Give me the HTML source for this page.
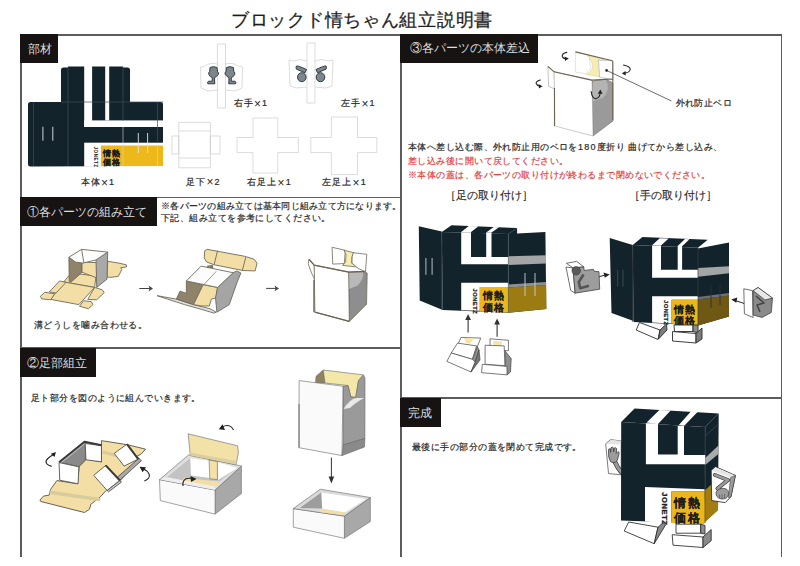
<!DOCTYPE html>
<html lang="ja"><head><meta charset="utf-8">
<style>
html,body{margin:0;padding:0;background:#fff;}
body{width:800px;height:566px;position:relative;overflow:hidden;font-family:"Liberation Sans",sans-serif;color:#2a2a2a;}
.a{position:absolute;white-space:nowrap;line-height:1;}
.ln{position:absolute;background:#5c5c5c;}
.hd{position:absolute;background:#161312;color:#dedede;font-size:12px;line-height:1;}
.hd span{position:absolute;white-space:nowrap;}
.t9{font-size:9px;letter-spacing:0.44px;-webkit-text-stroke:0.2px currentColor;}
.red{color:#e5413f;}
.lb{font-size:9px;letter-spacing:1.2px;-webkit-text-stroke:0.2px currentColor;}
.x{font-size:12px;letter-spacing:1px;-webkit-text-stroke:0;position:relative;top:1.5px;}
svg{position:absolute;left:0;top:0;}
</style></head><body>
<div class="a" style="left:231px;top:10.8px;font-size:18px;letter-spacing:0.72px;color:#1e1e1e;-webkit-text-stroke:0.25px #1e1e1e;">ブロックド情ちゃん組立説明書</div>

<!-- frame lines -->
<div class="ln" style="left:20px;top:34px;width:762px;height:1.5px;"></div>
<div class="ln" style="left:20px;top:34px;width:1.5px;height:523px;"></div>
<div class="ln" style="left:780.5px;top:34px;width:1.5px;height:523px;"></div>
<div class="ln" style="left:400px;top:34px;width:1.5px;height:523px;"></div>
<div class="ln" style="left:20px;top:196.5px;width:381px;height:1.5px;"></div>
<div class="ln" style="left:20px;top:347px;width:381px;height:1.5px;"></div>
<div class="ln" style="left:400px;top:397px;width:382px;height:1.5px;"></div>

<!-- headers -->
<div class="hd" style="left:20px;top:34px;width:38px;height:28.5px;"><span style="left:7.5px;top:8.5px;">部材</span></div>
<div class="hd" style="left:20px;top:197px;width:137px;height:28.5px;"><span style="left:7px;top:8.5px;">①各パーツの組み立て</span></div>
<div class="hd" style="left:20px;top:347.5px;width:76px;height:29px;"><span style="left:6.5px;top:9px;">②足部組立</span></div>
<div class="hd" style="left:400px;top:34px;width:138px;height:28.5px;"><span style="left:10px;top:8px;">③各パーツの本体差込</span></div>
<div class="hd" style="left:400px;top:397.5px;width:41px;height:29px;"><span style="left:8px;top:9px;">完成</span></div>

<!-- labels -->
<div class="a lb" style="left:233.5px;top:96.2px;">右手<span class="x">×</span>1</div>
<div class="a lb" style="left:341px;top:96.2px;">左手<span class="x">×</span>1</div>
<div class="a lb" style="left:80.5px;top:175px;">本体<span class="x">×</span>1</div>
<div class="a lb" style="left:186px;top:174.5px;">足下<span class="x">×</span>2</div>
<div class="a lb" style="left:247px;top:175px;">右足上<span class="x">×</span>1</div>
<div class="a lb" style="left:322px;top:175px;">左足上<span class="x">×</span>1</div>

<div class="a t9" style="left:161px;top:202px;letter-spacing:0.25px;">※各パーツの組み立ては基本同じ組み立て方になります。</div>
<div class="a t9" style="left:161px;top:213.5px;">下記、組み立てを参考にしてください。</div>
<div class="a t9" style="left:34px;top:320.5px;">溝どうしを噛み合わせる。</div>
<div class="a t9" style="left:31px;top:394px;">足ト部分を図のように組んでいきます。</div>

<div class="a t9" style="left:675.5px;top:99px;">外れ防止ベロ</div>
<div class="a t9" style="left:408px;top:143px;">本体へ差し込む際、外れ防止用のベロを<span style="letter-spacing:1.3px;">180</span>度折り 曲げてから差し込み、</div>
<div class="a t9 red" style="left:408px;top:157px;">差し込み後に開いて戻してください。</div>
<div class="a t9 red" style="left:408px;top:170.5px;">※本体の蓋は、各パーツの取り付けが終わるまで閉めないでください。</div>
<div class="a lb" style="left:445px;top:190px;font-size:10.5px;letter-spacing:0;-webkit-text-stroke:0.15px currentColor;">［足の取り付け］</div>
<div class="a lb" style="left:629px;top:190px;font-size:10.5px;letter-spacing:0;-webkit-text-stroke:0.15px currentColor;">［手の取り付け］</div>
<div class="a t9" style="left:412px;top:443px;">最後に手の部分の蓋を閉めて完成です。</div>


<svg width="800" height="566" viewBox="0 0 800 566">
<!-- ===== 部材: body net ===== -->
<g id="bodynet">
<path fill="#13232b" d="M61,70 Q61,67.5 63.5,67.5 L68,67.5 L68,66.5 L123,66.5 L123,67.5 L127.5,67.5 Q130,67.5 130,70 L130,102 L160.5,102 Q163,102 163,104.5 L163,166 L30.5,166.5 Q28,166.5 28,164 L28,104.5 Q28,102 30.5,102 L61,102 Z"/>
<rect x="84.2" y="66" width="7.9" height="61" fill="#fff"/>
<rect x="105.2" y="66" width="4" height="54.4" fill="#fff"/>
<rect x="84.2" y="120.4" width="79.3" height="6.6" fill="#fff"/>
<rect x="84.2" y="142.7" width="79.3" height="24" fill="#fff"/>
<rect x="100.9" y="145.5" width="62.1" height="20.5" fill="#edb81a"/>
<g stroke="#3d5058" stroke-width="0.7" fill="none">
<path d="M33.6,102.5 V166 M68,67 V166 M123,67 V120.4 M157.5,102.5 V142.7 M61,102 H163"/>
</g>
<g stroke="#d8d8d8" stroke-width="0.6" fill="none">
<path d="M123,127 V166 M157.5,145.5 V166"/>
</g>
<g stroke="#e8e8e8" stroke-width="0.9">
<path d="M42.9,126.8 V140.7 M52.8,126.8 V140.7 M138.3,133 V153 M147.6,133 V153"/>
</g>
<text x="103.2" y="155.6" font-size="7.6" font-weight="bold" fill="#1e1e1e" stroke="#1e1e1e" stroke-width="0.25" letter-spacing="0.6">情熱</text>
<text x="103.2" y="165" font-size="7.6" font-weight="bold" fill="#1e1e1e" stroke="#1e1e1e" stroke-width="0.25" letter-spacing="0.6">価格</text>
<text transform="translate(94.4,146.5) rotate(90)" font-size="4.6" font-weight="bold" fill="#222" letter-spacing="0.5">JONETZ</text>
</g>

<!-- ===== 部材: hand nets ===== -->
<g fill="none" stroke="#cdcdcd" stroke-width="0.7">
<path d="M217.4,44 H225.5 V108 H217.4 Z M217.4,64 Q210,62 205,66 L200.5,67 L201,88 L208,91 L217.4,90 M225.5,64 Q233,62 238,66 L242.5,67 L242,88 L235,91 L225.5,90"/>
<path d="M307,43 H315 V103 H307 Z M307,61 Q300,58 294,61 L289,60 L290,86 L296,88 L307,87 M315,61 Q322,58 328,61 L333,60 L332,86 L326,88 L315,87"/>
<path d="M178.8,122.4 H210.4 V167.8 H178.8 Z M171.9,136 H178.8 V154 H171.9 Z M210.4,136 H220 V154 H210.4 Z M178.8,131 H210.4 M178.8,158 H210.4"/>
<path d="M237,137.5 H253 V118 H277.8 V137.5 H298.4 V152.6 H277.8 V173 H253 V152.6 H237 Z"/>
<path d="M310.8,137.5 H331.4 V117 H357.5 V137.5 H376.8 V152.6 H357.5 V174.6 H331.4 V152.6 H310.8 Z"/>
</g>
<g fill="#7b878c" stroke="#263034" stroke-width="0.9" stroke-linejoin="round">
<path d="M210,67.5 Q213.5,65.8 217,67.5 L217.6,71.8 Q219.2,72.6 218.2,74.6 Q216.4,77 214.6,77.5 L214.6,81 L214.8,83.8 L207.9,83.8 Q206.9,82 208.5,81.2 L212.2,81.2 L212.2,77.5 Q210,77 208.9,74.6 Q208,72.6 209.6,71.8 Z"/>
<path d="M 233.50 67.50 Q 230.00 65.80 226.50 67.50 L 225.90 71.80 Q 224.30 72.60 225.30 74.60 Q 227.10 77.00 228.90 77.50 L 228.90 81.00 L 228.70 83.80 L 235.60 83.80 Q 236.60 82.00 235.00 81.20 L 231.30 81.20 L 231.30 77.50 Q 233.50 77.00 234.60 74.60 Q 235.50 72.60 233.90 71.80 Z"/>
<ellipse cx="301.8" cy="77.2" rx="4.3" ry="4.5"/><path d="M296.5,66 Q298,65.5 306.5,69.5 L305,72.8 L296.5,69.2 Q295.5,67.5 296.5,66 Z"/>
<ellipse cx="320.5" cy="77.2" rx="4.3" ry="4.5"/><path d="M326,66 Q324.5,65.5 316,69.5 L317.5,72.8 L326,69.2 Q327,67.5 326,66 Z"/>
</g>

<!-- ===== ① illustrations ===== -->
<g transform="translate(30,240) scale(0.1375)" stroke="#6d6a5c" stroke-width="0.9" vector-effect="non-scaling-stroke" stroke-linejoin="round">
<g vector-effect="non-scaling-stroke">
<path fill="#f3dfa6" d="M565,155 L640,167 L700,180 L702,196 L660,202 L668,215 L642,265 L580,272 L560,268 Z" vector-effect="non-scaling-stroke"/>
<path fill="#f3dfa6" d="M245,305 L300,240 L480,262 L470,345 Z" vector-effect="non-scaling-stroke"/>
<path fill="#f3dfa6" d="M245,305 L470,345 L355,470 L150,432 Z" vector-effect="non-scaling-stroke"/>
<path fill="#f3dfa6" d="M140,378 L215,298 L262,308 L190,385 Z" vector-effect="non-scaling-stroke"/>
<path fill="#f3dfa6" d="M75,410 L108,380 L180,392 L150,435 L85,428 Z" vector-effect="non-scaling-stroke"/>
<path fill="#f3dfa6" d="M470,345 L525,362 L540,382 L485,435 L420,432 Z" vector-effect="non-scaling-stroke"/>
<path fill="#f3dfa6" d="M390,442 L445,448 L458,470 L425,500 L360,482 Z" vector-effect="non-scaling-stroke"/>
<path fill="#8f846a" d="M283,125 L378,160 L378,235 L300,305 L285,300 Z" vector-effect="non-scaling-stroke"/>
<path fill="#f3dfa6" d="M378,160 L488,165 L485,275 L378,235 Z" vector-effect="non-scaling-stroke"/>
<path fill="#a9a9a9" d="M480,140 L565,88 L560,285 L485,345 Z" vector-effect="non-scaling-stroke"/>
<path fill="#fdfdfd" d="M283,125 L375,68 L565,88 L480,145 L385,168 L330,160 Z" vector-effect="non-scaling-stroke"/>
<path fill="none" d="M375,68 L392,165" vector-effect="non-scaling-stroke"/>
</g>
</g>

<g transform="translate(155,240) scale(0.1375)" stroke="#6d6a5c" stroke-linejoin="round">
<path fill="#e2e2e2" stroke-width="0.9" vector-effect="non-scaling-stroke" d="M15,405 L155,430 L280,470 L400,500 L445,525 L430,532 L340,505 L215,470 L90,430 Z"/>
<path fill="#f3dfa6" stroke-width="0.9" vector-effect="non-scaling-stroke" d="M362,78 L380,68 L650,118 L722,140 L742,170 L728,225 L640,222 L430,180 L375,160 L358,130 Z"/>
<path fill="none" stroke-width="0.9" vector-effect="non-scaling-stroke" d="M455,78 L430,178 M660,125 L635,222"/>
<path fill="#8f846a" stroke-width="0.9" vector-effect="non-scaling-stroke" d="M380,190 L420,185 L420,205 L385,200 Z"/>
<path fill="#8f846a" stroke-width="0.9" vector-effect="non-scaling-stroke" d="M155,430 L182,372 L228,388 L228,298 L350,325 L280,470 Z"/>
<path fill="#f3dfa6" stroke-width="0.9" vector-effect="non-scaling-stroke" d="M280,470 L350,325 L455,345 L445,420 L410,430 L395,480 L340,480 Z"/>
<path fill="#a5a5a5" stroke-width="0.9" vector-effect="non-scaling-stroke" d="M455,345 L568,238 L595,225 L625,240 L600,300 L540,470 L450,525 L440,420 Z"/>
<path fill="#fdfdfd" stroke-width="0.9" vector-effect="non-scaling-stroke" d="M228,298 L335,190 L568,238 L455,345 Z"/>
<path fill="none" stroke-width="0.7" vector-effect="non-scaling-stroke" d="M445,228 L355,325"/>
</g>

<g transform="translate(295,240) scale(0.13245)" stroke="#6d6a5c" stroke-linejoin="round">
<path fill="#fff" stroke-width="0.8" vector-effect="non-scaling-stroke" d="M280,55 L380,78 L372,178 L285,182 Z"/>
<path fill="#f6eeb0" stroke-width="0.8" vector-effect="non-scaling-stroke" d="M370,78 L445,96 L430,130 L428,175 L480,205 L360,192 L382,165 L385,110 Z"/>
<path fill="#fff" stroke-width="0.8" vector-effect="non-scaling-stroke" d="M440,96 L542,108 L532,240 L478,215 L430,175 L432,125 Z"/>
<path fill="#fff" stroke-width="0.8" vector-effect="non-scaling-stroke" d="M105,148 L145,190 L150,300 L125,250 L100,180 Z"/>
<path fill="#8e8e8e" stroke-width="0.8" vector-effect="non-scaling-stroke" d="M405,242 L525,238 L545,250 L540,485 L410,615 Z"/>
<path fill="#b9b9b9" stroke="none" d="M408,245 L515,240 Q520,300 470,345 L408,370 Z"/>
<path fill="#fff" stroke-width="0.8" vector-effect="non-scaling-stroke" d="M145,190 L405,242 L410,615 L150,545 Z"/>
<path fill="none" stroke="#6e6250" stroke-width="1.3" vector-effect="non-scaling-stroke" d="M105,145 L145,190 L405,242 L525,238 M143,300 V545 M150,545 L410,615"/>
</g>

<g stroke="#444" stroke-width="1" fill="#444">
<path d="M139.3,288.5 H151" fill="none"/><path d="M153,288.5 L148.5,285.6 L149.6,288.5 L148.5,291.4 Z" stroke="none"/>
<path d="M266.1,288.4 H277" fill="none"/><path d="M279,288.4 L274.5,285.5 L275.6,288.4 L274.5,291.3 Z" stroke="none"/>
</g>

<!-- ===== ② illustrations ===== -->
<g transform="translate(35,435) scale(0.14144)" stroke="#55544c" stroke-linejoin="round">
<path fill="#f3dfa6" stroke-width="0.9" vector-effect="non-scaling-stroke" d="M35,460 L60,432 L100,425 L110,385 L155,322 L300,345 L315,205 L360,170 L470,190 L470,40 L650,68 L782,100 L750,135 L720,150 L740,170 L595,330 L500,395 L460,440 L420,470 L395,490 L385,525 L350,548 L40,470 Z"/>
<path fill="#d8cb9c" stroke="none" d="M108,392 L465,446 L458,468 L102,418 Z"/>
<path fill="#d8cb9c" stroke="none" d="M480,110 L600,140 L590,160 L475,130 Z"/>
<path fill="#8a8a8a" stroke-width="0.9" vector-effect="non-scaling-stroke" d="M170,192 L350,50 L360,60 L355,180 L310,225 Z"/>
<path fill="#b9b9b9" stroke="none" d="M172,190 L350,48 L356,62 L186,200 Z"/>
<path fill="#fff" stroke-width="0.9" vector-effect="non-scaling-stroke" d="M170,195 L310,225 L305,345 L175,320 Z"/>
<path fill="#fff" stroke-width="0.9" vector-effect="non-scaling-stroke" d="M355,60 L470,75 L470,190 L360,175 Z"/>
<path fill="#fff" stroke-width="0.9" vector-effect="non-scaling-stroke" d="M560,130 L650,65 L730,170 L630,220 Z"/>
<path fill="#a9a9a9" stroke-width="0.9" vector-effect="non-scaling-stroke" d="M580,300 L735,165 L752,182 L597,322 Z"/>
<path fill="#fff" stroke-width="0.9" vector-effect="non-scaling-stroke" d="M415,285 L500,215 L600,322 L510,392 Z"/>
<path fill="#c8c8c8" stroke-width="0.9" vector-effect="non-scaling-stroke" d="M510,392 L600,322 L612,332 L520,402 Z"/>
<path fill="none" stroke="#3a3a3a" stroke-width="2" vector-effect="non-scaling-stroke" d="M170,192 L350,48 L470,72 M650,65 L730,170 M500,215 L600,322"/>
<path fill="none" stroke="#222" stroke-width="1.2" vector-effect="non-scaling-stroke" d="M118,222 Q33,195 128,140"/>
<path fill="#222" stroke="none" d="M148,120 L112,132 L138,156 Z"/>
</g>
<path fill="none" stroke="#222" stroke-width="1.1" d="M144.3,481 Q150.5,478.5 149.2,474.5 Q147.5,470.5 143.5,469"/>
<path fill="#222" d="M139.6,466.8 L146,467.2 L142.6,472.2 Z"/>

<g stroke="#666" stroke-width="0.6" stroke-linejoin="round">
<path fill="#a8a8a8" d="M215.1,490 L241.4,466 L241.4,493.5 L215.1,514.1 Z"/>
<path fill="#fafafa" d="M159.5,479.6 L215.1,490 L215.1,514.1 L160.3,500.6 Z"/>
<path fill="#dedede" d="M159.5,479.6 L188.8,454.8 L241.4,466 L215.1,490 Z"/>
<path fill="#c3c3c3" stroke="none" d="M165.5,478.5 L190.3,458 L237.5,468 L214,485.5 Z"/>
<path fill="#fff" stroke="none" d="M190.3,458 L210,461 L210,478 L191,475.5 Z"/>
<path fill="#fff" stroke="none" d="M217.4,462 L237.5,468 L218,480 Z"/>
<path fill="#f3e2a8" d="M188.1,433.8 L237.6,445.8 L238.4,452.5 L236.1,464.6 L190.3,455.5 Z"/>
<path fill="#ddd0a0" stroke="none" d="M190,452.5 L236.5,461 L236.1,464.6 L190.3,455.5 Z"/>
<path fill="#f3e2a8" d="M209.1,460 L217.4,461.6 L217.4,479.6 L209.8,478.8 Z"/>
<path fill="#f3dfa6" stroke="none" d="M183.5,478 L219.5,481.5 L218,486.5 L182.5,483 Z"/>
<path fill="#eeeeee" stroke="none" d="M160,479.6 L166,477 L215,486.5 L215.1,490 Z"/>
</g>
<path fill="none" stroke="#222" stroke-width="1.1" d="M183,486 Q182,478.5 189,478.3 Q193,478 195,479"/>
<path fill="#222" d="M196.5,479 L190.5,476 L191,482 Z"/>
<path fill="none" stroke="#222" stroke-width="1.1" d="M233.5,430 Q230,423 222,427"/>
<path fill="#222" d="M218.8,429.2 L225,430 L222.5,424.2 Z"/>

<g stroke="#666" stroke-width="0.6" stroke-linejoin="round">
<path fill="#8f8462" d="M316.1,376.3 L323.2,370 L325,383 L315.5,382.7 Z"/>
<path fill="#f3e8a8" d="M323.2,370 L363.5,374.9 L358.5,380.5 L355.7,397.5 L350.8,396.8 L348,385.5 L325,383 Z"/>
<path fill="#9a9a9a" d="M358.5,380.5 L363.5,374.9 L365,378 L364.9,438.5 L343,445 L343,386.2 L348,385.5 L350.8,396.8 L355.7,397.5 Z"/>
<path fill="#e8e8e8" stroke="none" d="M343.5,409 Q350,399 356,398 L364,398 Q355,403 350,408 Z"/>
<path fill="#fafafa" d="M299.1,380.6 L343,386.2 L342,455.6 L299,447.7 Z"/>
<path fill="#999" stroke="none" d="M298.2,404 H300 V447.7 H298.2 Z"/>
<path fill="#8a8a8a" d="M343,445 L364.9,438.5 L364.5,447 L342,455.6 Z"/>
<path fill="#a8a8a8" d="M344.4,516.1 L370.3,497.5 L370.3,521.6 L344.4,538.3 Z"/>
<path fill="#fafafa" d="M293.3,508.6 L344.4,516.1 L344.4,538.3 L293.3,527.2 Z"/>
<path fill="#dadada" d="M293.3,508.6 L320.3,489.2 L370.3,497.5 L344.4,516.1 Z"/>
<path fill="#fff" stroke="none" d="M321.2,492.5 L366,499 L345,512.5 L322.1,508.6 Z"/>
<path fill="#9d9d9d" stroke="none" d="M299.8,508 L321.2,492.5 L322.1,508.6 Z"/>
<path fill="#f3dfa6" stroke="none" d="M320.3,509 L345.3,512.5 L343,515 L319.3,512 Z"/>
</g>
<path fill="none" stroke="#333" stroke-width="1" d="M331.4,457.6 V479"/>
<path fill="#333" d="M331.4,483.5 L328.6,476.5 L334.2,476.5 Z"/>
<!-- ===== ③ top box ===== -->
<g stroke-linejoin="round">
<path fill="#fff" stroke="#c9c9c9" stroke-width="0.5" d="M575.4,51.9 L589,55 L590.5,68.4 L586.4,73.9 L575.4,72 Z"/>
<path fill="#f6eeb0" stroke="#c8c090" stroke-width="0.4" d="M587,55.5 L604,59.5 Q597.5,62 598,68 Q598.5,74 607,78 L586,74.5 Q592,72 592.4,67 Q592.5,60 587,55.5 Z"/>
<path fill="#fff" stroke="#999" stroke-width="0.5" d="M598.1,60.1 L612.5,60.8 L613.2,79.4 L599.5,77.3 L599.5,74.6 L598.8,64.3 Z"/>
<path fill="#9a9a9a" stroke="#666" stroke-width="0.5" d="M592,81 L606,79 L613,83 L613,121 L593,136 Z"/>
<path fill="#b4b4b4" d="M593,81.5 L606,79.8 Q611,90 603,98 L593,101 Z"/>
<path fill="#fff" stroke="#888" stroke-width="0.5" d="M547.9,66.3 L554.1,71.8 L554.8,89 L548.6,86.3 Z"/>
<path fill="#fff" stroke="#999" stroke-width="0.5" d="M554.1,71.8 L592,80.5 L593,136 L554.8,126 Z"/>
<path fill="none" stroke="#6e6250" stroke-width="1.1" d="M547.9,66.3 L554.1,71.8 L591.9,80.1 L612.5,79 M575.4,51.9 L612.5,60.8 M554.5,88 V126 M612.8,61 V120"/>
</g>
<g fill="none" stroke="#222" stroke-width="1.1" stroke-linecap="round">
<path d="M566.8,52.4 Q561.5,53.5 562.3,56.5 Q563,58.6 565.5,58.8"/>
<path d="M540.3,80 Q535.5,81.5 536.2,83.5 Q537,85.8 540,86.2"/>
<path d="M623.5,65 Q630.5,66.5 630.2,69.5 Q629.5,72.5 624.5,73.2"/>
<path d="M591.2,91.5 Q592,98.6 595.5,98.6 Q599.5,98.4 600.2,93"/>
<path d="M606.6,70.4 L671,100.8" stroke-width="0.8" stroke="#444"/>
</g>
<g fill="#222">
<path d="M568.8,58.6 L564.5,56.4 L565,61 Z"/>
<path d="M542.5,86.2 L538.5,84 L539,88.5 Z"/>
<path d="M621.8,73.5 L625.5,71 L625.8,75.5 Z"/>
<path d="M600.3,89.5 L597.8,93.8 L602.6,93.8 Z"/>
<circle cx="606.6" cy="70.4" r="1.3"/>
</g>
<!-- ===== ③ 足の取り付け body ===== -->
<g id="fig3a" stroke-linejoin="round">
<path fill="#13232b" d="M418.8,226.2 L441.8,231.5 L442.7,310 L419.7,300.4 Z"/>
<path fill="#13232b" d="M441.8,232 L451.5,225.3 L517.1,228 L508.3,234.1 Z"/>
<path fill="#fff" d="M461.2,232 L471,232 L478.5,226.3 L468.8,226 Z M486.2,232.6 L491.5,232.6 L499,227.2 L493.7,227 Z"/>
<path fill="#13232b" d="M441.8,232 L508.3,233.8 L508.3,312.8 L442.7,310 Z"/>
<path fill="#13232b" d="M508.3,234 L517.1,228 L517.1,233.5 L545.4,232 L546.3,309 L508.3,312.8 Z"/>
<path fill="#a3a5a6" d="M508.3,256.2 L546,255.3 L546,263.6 L508.3,265 Z"/>
<path fill="#9b7b12" d="M508.3,287.5 L546.2,285 L546.3,309 L508.3,312.8 Z"/>
<path fill="#8d8f90" d="M508.3,284.5 L546.2,282 L546.2,285 L508.3,287.5 Z"/>
<path fill="#fff" d="M461.2,232.3 H471 V257.1 H486.2 V232.6 H491.5 V257.1 H508.3 V264.2 H461.2 Z"/>
<path fill="#fff" d="M461.2,282.7 H508.3 V287.1 H479.8 V310.8 L461.2,310.2 Z"/>
<path fill="#eeb719" d="M479.8,287.1 H508.3 V312.6 L479.8,311.6 Z"/>
<text x="483.3" y="299.2" font-size="9.6" font-weight="bold" fill="#1d1d1d" stroke="#1d1d1d" stroke-width="0.12" letter-spacing="0.9">情熱</text>
<text x="483.3" y="310.6" font-size="9.6" font-weight="bold" fill="#1d1d1d" stroke="#1d1d1d" stroke-width="0.12" letter-spacing="0.9">価格</text>
<text transform="translate(473,288.6) rotate(90)" font-size="5.8" font-weight="bold" fill="#1d1d1d" stroke="#1d1d1d" stroke-width="0.25" letter-spacing="0.45">JONETZ</text>
<path stroke="#4b5a60" stroke-width="0.6" fill="none" d="M441.8,232 V310 M508.3,234 V312.8"/>
<path stroke="#c9d0d2" stroke-width="0.9" fill="none" d="M425.9,258 V274.8 M432.1,258 V274.8 M525,273 V296 M535,273 V296"/>
</g>
<g stroke="#333" stroke-width="1.1" fill="#333">
<path d="M468.1,332.5 V318" fill="none"/><path d="M468.1,314 L465.2,320 L471,320 Z" stroke="none"/>
<path d="M497.1,336.7 V322.5" fill="none"/><path d="M497.1,318.5 L494.2,324.5 L500,324.5 Z" stroke="none"/>
</g>
<g stroke="#444" stroke-width="0.7" stroke-linejoin="round">
<path fill="#fff" d="M461.1,337.4 L480.8,338.1 L477.3,346.6 L458,344 Z"/>
<path fill="#f3e6a6" stroke="none" d="M464,338 L474,338.3 L470,344 L466,343 Z"/>
<path fill="#fff" d="M451.2,353 L457.5,343.1 L476.6,345.9 L472.4,359.3 Z"/>
<path fill="#8e8e8e" d="M472.4,359.3 L477.3,346.6 L479,350 L475.2,362.1 Z"/>
<path fill="#fff" d="M446.9,361.4 L451.2,353 L472.4,359.3 L475.2,362.1 L471,372 Z"/>
<path fill="#777" d="M475.2,362.1 L479,350 L480,360 L471,372 Z"/>
<path fill="#fff" d="M490,338.8 L508.4,340.3 L508.4,350.8 L490,349 Z"/>
<path fill="#f3e6a6" stroke="none" d="M493,341 L502,341.5 L501,347 L494,347 Z"/>
<path fill="#8e8e8e" d="M504.9,350.8 L511.2,358.6 L510.5,372 L507,374.9 L504.9,365.7 Z"/>
<path fill="#fff" d="M485.1,345.2 L504.2,345.9 L504.9,365.7 L485.1,364.3 Z"/>
<path fill="#fff" d="M482.3,364.3 L507,366.4 L507,374.9 L481.6,372.7 Z"/>
</g>

<!-- ===== ③ 手の取り付け body ===== -->
<g id="fig3b" stroke-linejoin="round">
<path fill="#13232b" d="M609.7,238 L632.7,245 L633.6,321 L611.5,313 Z"/>
<path fill="#13232b" d="M632.7,245 L642.4,237 L707.7,239.7 L698,247.7 Z"/>
<path fill="#fff" d="M652.1,245.3 L661,245.5 L668.6,238.6 L659.7,238.3 Z M677.7,246 L682.1,246.2 L689.5,239.2 L685,239 Z"/>
<path fill="#13232b" d="M632.7,245 L698,247.7 L698,325.4 L633.6,321.9 Z"/>
<path fill="#13232b" d="M698,248.6 L729,242.4 L729,316.6 L698,325.4 Z"/>
<path fill="#a3a5a6" d="M698,268 L729,266.2 L729,273.3 L698,276.8 Z"/>
<path fill="#6f5714" d="M698,299.5 L729,295.5 L729,316.6 L698,325.4 Z"/>
<path fill="#6d7173" d="M698,297 L729,293 L729,295.5 L698,299.5 Z"/>
<path fill="#fff" d="M652.1,245.5 H661 V269.8 H677.7 V246 H682.1 V269.8 H698 V277.7 H652.1 Z"/>
<path fill="#fff" d="M652.1,296.3 H698 V299.8 H671.6 V323.6 L652.1,322.5 Z"/>
<path fill="#eeb719" d="M671.6,299.8 H698 V325.4 L671.6,323.8 Z"/>
<text x="674" y="312.6" font-size="9.6" font-weight="bold" fill="#1d1d1d" stroke="#1d1d1d" stroke-width="0.12" letter-spacing="0.9">情熱</text>
<text x="674" y="323.6" font-size="9.6" font-weight="bold" fill="#1d1d1d" stroke="#1d1d1d" stroke-width="0.12" letter-spacing="0.9">価格</text>
<text transform="translate(664.2,300) rotate(90)" font-size="5.8" font-weight="bold" fill="#1d1d1d" stroke="#1d1d1d" stroke-width="0.25" letter-spacing="0.45">JONETZ</text>
<path stroke="#3c3c3c" stroke-width="0.7" fill="none" d="M632.7,245 V321.9 M698,248 V325.4"/>
<path stroke="#44565c" stroke-width="0.8" fill="none" d="M617.7,269.8 V286.5 M623,269.8 V286.5"/>
<path stroke="#2a3134" stroke-width="0.9" fill="none" d="M711,284.8 V307.7 M720,284.8 V305"/>
</g>
<g stroke="#222" stroke-width="1" fill="#222">
<path d="M594,278 Q600,276.5 605.5,275" fill="none"/><path d="M609.7,274.5 L603.5,272.5 L604.8,277.8 Z" stroke="none"/>
<path d="M748,305 Q742,302.5 735,300.5" fill="none"/><path d="M731.3,299.4 L737.3,297.6 L736.3,302.8 Z" stroke="none"/>
</g>
<g stroke="#2a2a2a" stroke-width="0.9" stroke-linejoin="round">
<path fill="#fff" d="M636.2,330 L639.5,322.5 L660,330 L658,339.5 Z"/>
<path fill="#7d7d7d" d="M660,330 L666.5,324 L667,330 L658.5,339 Z"/>
<path fill="#fff" d="M674,325 L693,325 L693,331.5 L674.5,331.5 Z"/>
<path fill="#8e8e8e" d="M693,325 L698,325 L698,333 L693,331.5 Z"/>
<path fill="#fff" d="M672.5,331.5 L696,333.5 L696,343 L672.5,341 Z"/>
<path fill="#7d7d7d" d="M696,333.5 L702,328 L702,339 L696,343 Z"/>
</g>
<g stroke="#333" stroke-width="0.7" stroke-linejoin="round">
<path fill="#fff" d="M566.4,263.3 L576.7,261.4 L583.8,266.9 L573,268 Z"/>
<path fill="#fff" d="M566,267 L573,268 L575.1,293.2 L570.7,290.4 Z"/>
<path fill="#9d9d9d" d="M573,268 L583.8,266.9 L584.2,270.5 L593.4,269.3 L594.2,271.3 L599,271.7 L599.7,289.2 L575.1,293.2 Z"/>
<circle cx="576.2" cy="270.8" r="4.2" fill="#5a5a5a" stroke="#333" stroke-width="0.6"/>
<path fill="none" stroke="#555" stroke-width="2.6" stroke-linejoin="round" d="M583.5,274.5 L578.8,282 L580.2,288.2 L589,285.8"/>
<path fill="#fff" d="M743.8,288.8 L752.5,290.6 L753.1,317.5 L744.4,313.8 Z"/>
<path fill="#8a8a8a" d="M753.1,290.6 L758.1,287.5 L772.5,298.1 L771.3,312.5 L761.9,317.5 L753.1,315 Z"/>
<path fill="#e8e8e8" d="M753.1,290.6 L758.1,287.5 L772.5,298.1 L765,300 Z"/>
<path fill="none" stroke="#444" stroke-width="1.6" d="M756,296 L764,303 L757,305 L760,312"/>
</g>

<!-- ===== 完成 figure ===== -->
<g id="figdone" stroke-linejoin="round">
<path fill="#fff" stroke="#444" stroke-width="0.7" d="M605.7,443.8 L610.6,439.6 L621.2,441 L621.2,474.9 L608.5,473.5 Z"/>
<path fill="#e4e4e4" stroke="none" d="M606.2,444 L611,439.8 L621,441 L619,444.5 Z"/>
<path fill="none" stroke="#3a3a3a" stroke-width="4.6" stroke-linecap="round" d="M613.5,459 L617.5,467 L621,472"/>
<path fill="none" stroke="#9c9c9c" stroke-width="3" stroke-linecap="round" d="M613.5,459 L617.5,467 L621,472"/>
<path fill="#9c9c9c" stroke="#3a3a3a" stroke-width="0.7" transform="translate(608.5,450) scale(1.15) translate(-608.5,-450)" d="M 608.7 456.0 L 608.5 450.0 Q 608.7 448.5 610.0 449.0 L 610.4 452.0 L 610.7 448.0 Q 611.7 447.0 612.7 448.0 L 613.0 451.5 L 613.7 448.2 Q 614.9 447.6 615.6 448.8 L 615.2 453.0 L 616.7 451.5 Q 618.0 451.5 617.7 453.0 L 616.2 459.0 Q 613.2 462.5 610.2 460.0 Z"/>
<path fill="#13232b" d="M621.2,421.9 L634.6,408.5 L718.7,413.4 L705.2,426.9 Z"/>
<path fill="#fff" d="M646.6,422.6 L658,424 L670.7,410.6 L659.4,409.9 Z M678.4,425.4 L684,426.1 L697.5,412 L691.1,411.3 Z"/>
<path fill="#13232b" d="M621.2,421.9 L705.2,426.9 L704.3,523.5 L621,520.5 Z"/>
<path fill="#13232b" d="M705.2,426.9 L718.7,413.4 L718,510 L703,523.5 Z"/>
<path fill="#a9abac" d="M705.2,458 L718.7,445.2 L718.7,453.7 L705.2,465 Z"/>
<path fill="#a47d10" d="M704.5,490.8 L718.3,478 L718,510 L703.5,523.5 Z"/>
<path stroke="#4a5a60" stroke-width="0.6" fill="none" d="M705.2,436 L718.7,424 M705.2,426.9 V523"/>
<path fill="#fff" d="M645.9,423.3 H658 V454.4 H677.7 V426.1 H684 V455.1 H705.2 V464.3 H645.9 Z"/>
<path fill="#fff" d="M645,487 L704.5,489.3 V491.5 H671.3 V523.3 L645,521.6 Z"/>
<path fill="#eeb719" d="M671.3,491.5 H704.4 V523.8 L671.3,523 Z"/>
<text x="674" y="507.4" font-size="12" font-weight="bold" fill="#1d1d1d" stroke="#1d1d1d" stroke-width="0.15" letter-spacing="1.5">情熱</text>
<text x="674" y="522" font-size="12" font-weight="bold" fill="#1d1d1d" stroke="#1d1d1d" stroke-width="0.15" letter-spacing="1.5">価格</text>
<text transform="translate(661.8,492.3) rotate(90)" font-size="7.6" font-weight="bold" fill="#1d1d1d" stroke="#1d1d1d" stroke-width="0.3" letter-spacing="0.55">JONETZ</text>
<g stroke="#2a2a2a" stroke-width="0.85">
<path fill="#fff" d="M711.2,470.5 L715.5,466.7 L735.4,475.4 L731,496.7 L725.2,502.6 L711.7,500.6 Z"/>
<path fill="#e6e6e6" stroke="none" d="M711.6,470.6 L715.5,467.2 L734.8,475.6 L730.5,477.5 Z"/>
<path fill="#9c9c9c" stroke="#2a2a2a" stroke-width="0.5" d="M730.5,477.5 L735.4,475.4 L731,496.7 L728.5,497.8 Z"/>
<path fill="none" stroke="#3a3a3a" stroke-width="4" stroke-linejoin="round" stroke-linecap="round" d="M715,475 L728,480 L717.5,488.5 L722,492"/>
<path fill="none" stroke="#9c9c9c" stroke-width="2.5" stroke-linejoin="round" stroke-linecap="round" d="M715,475 L728,480 L717.5,488.5 L722,492"/>
<path fill="#9c9c9c" stroke="#3a3a3a" stroke-width="0.7" d="M716,492 Q719,487.5 725,488.5 Q729.5,490 728.5,495 Q727,499.5 721,499 Q715.5,497.5 716,492 Z"/>
<path fill="none" stroke="#3a3a3a" stroke-width="0.5" d="M719.5,494.5 V498 M722,494.5 V498.8 M724.5,494 V498.5"/>
<path fill="#fff" d="M624.2,531 L628.7,522 L658,527.2 L654.2,543.7 Z"/>
<path fill="#8a8a8a" d="M658,527.2 L663.2,522.7 L665.5,525 L654.2,543.7 Z"/>
<path fill="#fff" d="M676,524.2 L700.7,524.2 L700.7,533.2 L676,533.2 Z"/>
<path fill="#8e8e8e" d="M700.7,524.2 L705,525.5 L705,534 L700.7,533.2 Z"/>
<path fill="#fff" d="M672.2,534.7 L703,537 L703,547.5 L673,545.2 Z"/>
<path fill="#8a8a8a" d="M703,537 L711.2,529.5 L711.2,540.7 L703,547.5 Z"/>
</g>
</g>
</svg>
</body></html>
